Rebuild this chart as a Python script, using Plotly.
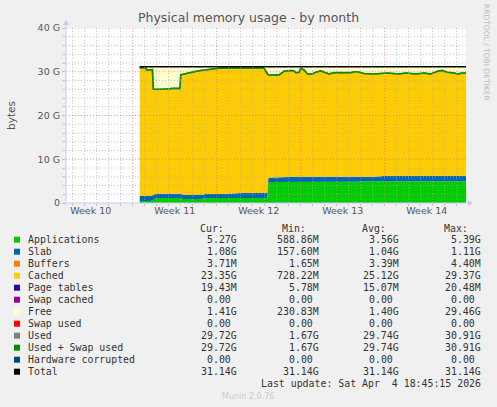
import plotly.graph_objects as go

# time axis in days (day 0 = Monday of week 10), month view
days = [7.58, 8.08, 8.17, 8.5, 8.64, 8.72, 8.9, 9.47, 10.39, 10.94,
        11.0, 11.2, 11.42, 12.11, 12.67, 13.08, 13.5, 13.92, 14.5, 16.1,
        17.94, 18.2, 18.3, 18.5, 19.19, 19.6, 20.0, 20.17, 20.44, 20.58,
        20.86, 21.0, 21.28, 21.56, 21.97, 22.25, 22.67, 22.94, 23.36, 23.78,
        25.17, 25.44, 25.72, 26.1, 26.28, 27.11, 28.22, 29.19, 29.75, 30.58,
        31.28, 31.83, 32.39, 32.81, 33.22, 33.78, 34.06, 34.47, 34.83]

# values in GiB
apps = [0.46, 0.46, 0.46, 0.46, 0.7, 0.7, 1.14, 1.14, 1.14, 1.14,
        1.14, 0.9, 0.9, 0.9, 0.9, 1.14, 1.14, 1.14, 1.14, 1.14,
        1.14, 1.14, 4.8, 4.8, 4.8, 4.85, 4.9, 4.85, 4.85, 4.85,
        4.85, 4.85, 4.85, 4.85, 4.85, 4.85, 4.85, 4.85, 4.85, 4.85,
        4.85, 4.85, 4.85, 5.0, 5.0, 5.0, 5.0, 5.0, 5.0, 5.0,
        5.0, 5.0, 5.0, 5.0, 5.0, 5.0, 5.0, 5.0, 5.0]
slab = [1.14, 1.14, 1.14, 1.14, 1.1, 1.1, 1.0, 1.0, 1.0, 1.15,
        1.0, 0.93, 0.93, 0.93, 0.93, 0.92, 0.92, 0.92, 0.92, 1.15,
        1.15, 1.15, 1.0, 1.0, 1.0, 1.0, 1.06, 1.15, 1.15, 1.15,
        1.15, 1.15, 1.15, 1.15, 1.15, 1.15, 1.15, 1.15, 1.15, 1.15,
        1.15, 1.15, 1.15, 1.0, 1.0, 1.0, 1.24, 1.24, 1.24, 1.24,
        1.24, 1.24, 1.24, 1.24, 1.24, 1.24, 1.24, 1.24, 1.24]
used = [30.9, 30.9, 30.4, 30.5, 30.5, 26.0, 26.0, 26.0, 26.2, 26.2,
        29.3, 29.4, 29.5, 30.0, 30.3, 30.45, 30.6, 30.85, 30.9, 30.85,
        30.85, 29.6, 29.3, 29.26, 29.26, 30.1, 30.3, 30.3, 30.2, 29.8,
        29.9, 30.8, 30.4, 29.5, 29.5, 29.9, 30.2, 29.9, 29.5, 29.8,
        29.8, 30.0, 30.0, 29.7, 29.6, 29.5, 29.7, 29.5, 29.7, 29.5,
        29.7, 29.5, 30.1, 30.3, 29.9, 29.7, 29.5, 29.7, 29.7]
buffers_g = 0.0037
page_tables_g = 0.019
total_g = 31.14

cached = [u - a - s - buffers_g - page_tables_g for u, a, s in zip(used, apps, slab)]
free = [total_g - u for u in used]

labels = ["Applications", "Slab", "Buffers", "Cached", "Page tables", "Swap cached",
          "Free", "Swap used", "Used", "Used + Swap used", "Hardware corrupted", "Total"]
colors = ["#00CC00", "#0066B3", "#FF8000", "#FFCC00", "#330099", "#990099",
          "#FFFFCC", "#FF0000", "#808080", "#008F00", "#00487D", "#000000"]
cur_vals = ["5.27G", "1.08G", "3.71M", "23.35G", "19.43M", "0.00", "1.41G", "0.00",
            "29.72G", "29.72G", "0.00", "31.14G"]
min_vals = ["588.86M", "157.60M", "1.65M", "728.22M", "5.78M", "0.00", "230.83M", "0.00",
            "1.67G", "1.67G", "0.00", "31.14G"]
avg_vals = ["3.56G", "1.04G", "3.39M", "25.12G", "15.07M", "0.00", "1.40G", "0.00",
            "29.74G", "29.74G", "0.00", "31.14G"]
max_vals = ["5.39G", "1.11G", "4.40M", "29.37G", "20.48M", "0.00", "29.46G", "0.00",
            "30.91G", "30.91G", "0.00", "31.14G"]
week_pos = [3.5, 10.5, 17.5, 24.5, 31.5]
week_labels = ["Week 10", "Week 11", "Week 12", "Week 13", "Week 14"]

W, H = 497, 407
L, R, T, B = 66, 466, 28, 203


def px(x):
    return (x - L) / (R - L)


def py(y):
    return (B - y) / (B - T)


fig = go.Figure()
n = len(days)
stack = [(apps, 0), (slab, 1), ([buffers_g] * n, 2), (cached, 3),
         ([page_tables_g] * n, 4), ([0.0] * n, 5), (free, 6), ([0.0] * n, 7)]
for vals, i in stack:
    fig.add_trace(go.Scatter(x=days, y=vals, stackgroup="mem", mode="lines",
                             line=dict(width=0, color=colors[i]), fillcolor=colors[i],
                             name=labels[i], hoverinfo="skip"))
fig.add_trace(go.Scatter(x=days, y=used, mode="lines", line=dict(color=colors[8], width=1.5)))
fig.add_trace(go.Scatter(x=days, y=used, mode="lines", line=dict(color=colors[9], width=1.6)))
fig.add_trace(go.Scatter(x=days, y=[total_g] * n, mode="lines", line=dict(color=colors[11], width=1.6)))

shapes = []
# grid drawn above the areas, like rrdtool
for d in range(2, 35):
    major = d % 7 == 0
    shapes.append(dict(type="line", xref="x", yref="paper", x0=d, x1=d, y0=0, y1=1, layer="above",
                       line=dict(color="rgba(240,110,110,0.75)" if major else "rgba(170,170,170,0.7)",
                                 width=1, dash="1px,2px")))
for g in range(2, 41, 2):
    major = g % 10 == 0
    shapes.append(dict(type="line", xref="paper", yref="y", x0=0, x1=1, y0=g, y1=g, layer="above",
                       line=dict(color="rgba(240,110,110,0.75)" if major else "rgba(170,170,170,0.7)",
                                 width=1, dash="1px,2px")))
axis_c = "#C8C8F4"
shapes.append(dict(type="line", xref="paper", yref="paper", x0=px(66), x1=px(66), y0=py(206), y1=py(24),
                   line=dict(color=axis_c, width=1), layer="above"))
shapes.append(dict(type="line", xref="paper", yref="paper", x0=px(62), x1=px(470), y0=0, y1=0,
                   line=dict(color=axis_c, width=1), layer="above"))
shapes.append(dict(type="path", xref="paper", yref="paper", fillcolor=axis_c, line=dict(width=0),
                   path=f"M {px(63)} {py(25)} L {px(69)} {py(25)} L {px(66)} {py(20)} Z"))
shapes.append(dict(type="path", xref="paper", yref="paper", fillcolor=axis_c, line=dict(width=0),
                   path=f"M {px(468)} {py(200)} L {px(468)} {py(206)} L {px(473)} {py(203)} Z"))


def note(text, x, y, xanchor="center", font=None, **kw):
    return dict(text=text, x=px(x), y=py(y), xref="paper", yref="paper", xanchor=xanchor,
                yanchor="middle", showarrow=False, font=font, **kw)


ann = []
ann.append(note("Physical memory usage - by month", 248.5, 18,
                font=dict(family="DejaVu Sans", size=12.5, color="#555555")))
ann.append(note("bytes", 11, 115, textangle=-90,
                font=dict(family="DejaVu Sans", size=10.5, color="#555555")))
ann.append(note("RRDTOOL / TOBI OETIKER", 487, 52, textangle=90,
                font=dict(family="DejaVu Sans", size=7.5, color="#BBBBBB")))
mono = dict(family="DejaVu Sans Mono", size=9.9, color="#333333")
col_right = [239.3, 320.7, 401.3, 482.7]
for hdr, xr in zip(["Cur:", "Min:", "Avg:", "Max:"], col_right):
    ann.append(note(hdr, xr - 13, 228.3, xanchor="right", font=mono))
for i, lab in enumerate(labels):
    yy = 239.7 + 12 * i
    shapes.append(dict(type="rect", xref="paper", yref="paper", x0=px(14), x1=px(20),
                       y0=py(yy - 3), y1=py(yy + 3), fillcolor=colors[i], line=dict(width=0)))
    ann.append(note(lab, 26, yy, xanchor="left", font=mono))
    for col, xr in zip([cur_vals, min_vals, avg_vals, max_vals], col_right):
        v = col[i]
        xe = xr if v[-1].isalpha() else xr - 6
        ann.append(note(v, xe, yy, xanchor="right", font=mono))
ann.append(note("Last update: Sat Apr \u00a04 18:45:15 2026", 482.7, 383.7, xanchor="right", font=mono))
ann.append(note("Munin 2.0.76", 248, 396, font=dict(family="DejaVu Sans", size=8, color="#CCCCCC")))

fig.update_layout(
    width=W, height=H, showlegend=False, hovermode=False,
    paper_bgcolor="#F0F0F0", plot_bgcolor="#FFFFFF",
    margin=dict(l=L, r=W - R, t=T, b=H - B, pad=0, autoexpand=False),
    shapes=shapes, annotations=ann,
)
fig.update_xaxes(range=[1.44, 34.77], tickvals=week_pos, ticktext=week_labels, ticks="",
                 showgrid=False, zeroline=False, showline=False, automargin=False,
                 tickfont=dict(family="DejaVu Sans", size=9.5, color="#555555"),
                 minor=dict(dtick=1, tick0=0, ticks="outside", ticklen=2, tickcolor="#C0C0C0", showgrid=False))
fig.update_yaxes(range=[0, 40], tickvals=[0, 10, 20, 30, 40], ticktext=["0", "10 G", "20 G", "30 G", "40 G"],
                 ticks="outside", ticklen=3, tickcolor="#C0C0C0", showgrid=False, zeroline=False, showline=False,
                 automargin=False,
                 tickfont=dict(family="DejaVu Sans", size=9.5, color="#555555"),
                 minor=dict(dtick=2, ticks="outside", ticklen=2, tickcolor="#C0C0C0", showgrid=False))

fig.write_html("out.html", config={"displayModeBar": False, "staticPlot": True},
               post_script="document.body.style.margin='0';document.body.style.overflow='hidden';")
